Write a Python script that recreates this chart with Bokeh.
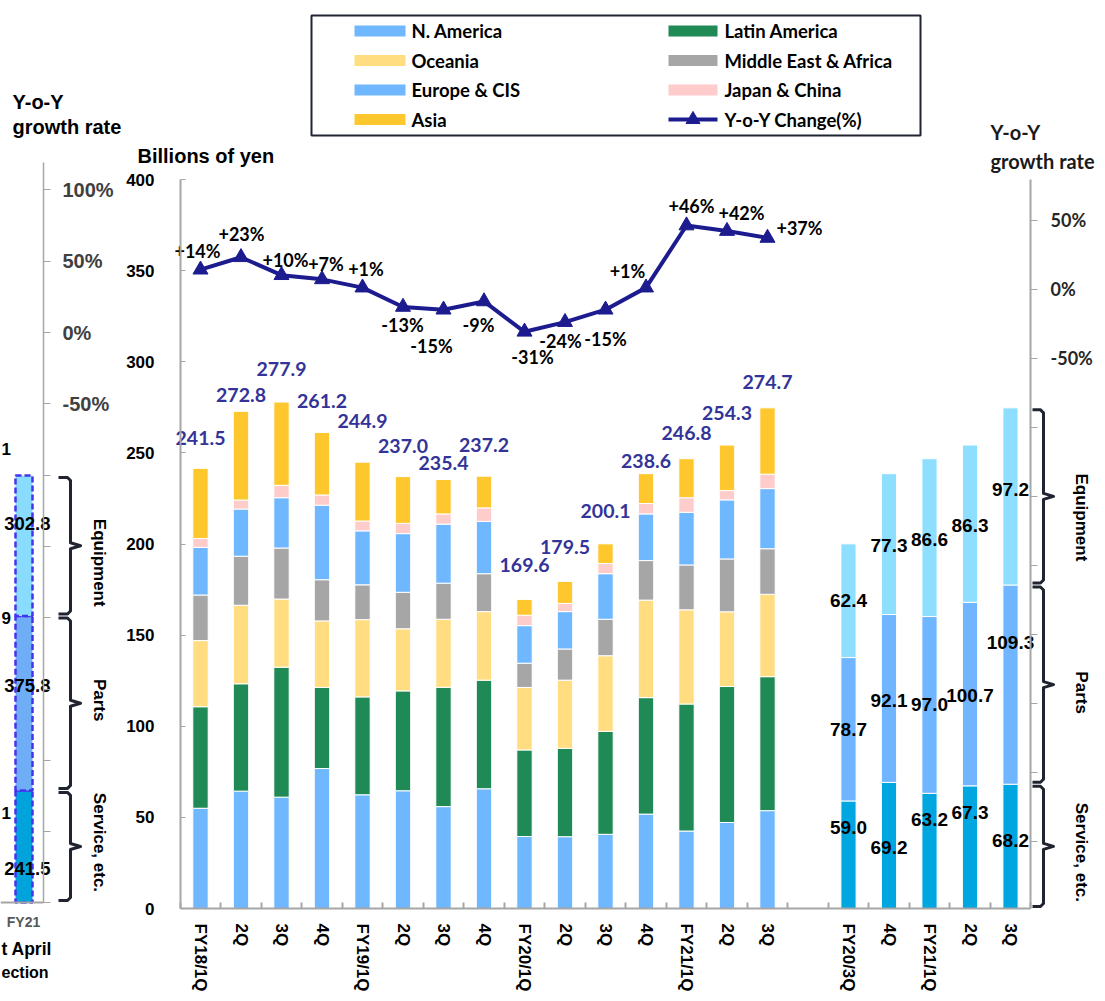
import math
from bokeh.plotting import figure
from bokeh.models import Range1d, LinearAxis, FixedTicker, ColumnDataSource
from bokeh.core.properties import value
from bokeh.embed import file_html
from bokeh.resources import INLINE

# ---------------- data ----------------
quarters = ["FY18/1Q", "2Q", "3Q", "4Q", "FY19/1Q", "2Q", "3Q", "4Q",
            "FY20/1Q", "2Q", "3Q", "4Q", "FY21/1Q", "2Q", "3Q"]
region_names = ["N. America", "Latin America", "Oceania", "Middle East & Africa",
                "Europe & CIS", "Japan & China", "Asia"]
n_america = [55.0, 64.4, 61.1, 76.8, 62.4, 64.6, 55.9, 65.7, 39.5, 39.4, 40.7, 51.8, 42.5, 47.2, 53.7]
latin_america = [55.7, 58.9, 71.3, 44.5, 53.7, 54.8, 65.5, 59.6, 47.5, 48.5, 56.5, 63.9, 69.7, 74.6, 73.5]
oceania = [36.3, 43.1, 37.4, 36.5, 42.4, 34.1, 37.3, 37.6, 34.3, 37.4, 41.5, 53.5, 51.7, 41.0, 45.2]
middle_east_africa = [25.0, 26.9, 28.0, 22.6, 19.1, 20.0, 19.8, 20.8, 13.3, 17.1, 20.0, 21.7, 24.6, 29.0, 25.0]
europe_cis = [26.1, 25.9, 27.6, 40.9, 29.6, 32.2, 32.4, 28.7, 20.6, 20.5, 25.0, 25.6, 28.9, 32.4, 33.0]
japan_china = [4.9, 4.9, 6.8, 5.6, 5.4, 5.6, 5.6, 7.4, 5.7, 4.5, 5.6, 5.7, 8.0, 5.1, 7.9]
asia = [38.5, 48.7, 45.7, 34.3, 32.3, 25.7, 18.9, 17.4, 8.7, 12.1, 10.8, 16.4, 21.4, 25.0, 36.4]
totals = [241.5, 272.8, 277.9, 261.2, 244.9, 237.0, 235.4, 237.2, 169.6, 179.5, 200.1, 238.6, 246.8, 254.3, 274.7]
yoy_change = [14, 23, 10, 7, 1, -13, -15, -9, -31, -24, -15, 1, 46, 42, 37]

seg_quarters = ["FY20/3Q", "4Q", "FY21/1Q", "2Q", "3Q"]
service = [59.0, 69.2, 63.2, 67.3, 68.2]
parts = [78.7, 92.1, 97.0, 100.7, 109.3]
equipment = [62.4, 77.3, 86.6, 86.3, 97.2]
segment_names = ["Equipment", "Parts", "Service, etc."]

fy21_label = "FY21"
fy21_service = 241.5
fy21_parts = 375.8
fy21_equipment = 302.8
# fragments of the neighbouring (cropped) labels visible in the left panel
left_fragments = ["1", "9", "1"]
left_caption = ["t April", "ection"]

left_yoy_labels = {-50: "-50%", 0: "0%", 50: "50%", 100: "100%"}
right_yoy_labels = {-50: "-50%", 0: "0%", 50: "50%"}

# ---------------- styles / positions ----------------
REGION_COLORS = ["#6FB7FF", "#208A56", "#FFDD80", "#A6A6A6", "#6FB7FF", "#FFCCCC", "#FFC72E"]
SVC_C, PRT_C, EQP_C = "#00A6DF", "#6FB5FF", "#8EDFFF"
NAVY = "#1C1C8F"
TOTAL_BLUE = "#333399"
AXIS_GRAY = "#A6A6A6"
DARK = "#1F2430"

total_label_dy = [30, 16, 33, 31, 41, 31, 16, 31, 34, 34, 33, 13, 26, 32, 26]
yoy_label_dx = [-3, 0.5, 4, 4, 3.5, -0.5, -12, -5.5, 8, -4.5, 0, -18.5, 5, 14.5, 32]
yoy_label_dy = [-18.5, -23, -15, -15, -19, 18.5, 36, 24, 25, 19, 29, -17, -20, -18.5, -9.5]
svc_frac = [0.75, 0.48, 0.77, 0.78, 0.55]
prt_frac = [0.50, 0.49, 0.50, 0.49, 0.71]
eqp_frac = [0.50, 0.49, 0.49, 0.49, 0.54]

W, H = 1105, 1000
X0, XS = 200.0, 40.5          # canvas x of slot 0, px per slot
Y0, YS = 908.0, 1.8225        # canvas y of 0 bn yen, px per bn yen
YOY0, YOYS = 288.5, 1.38      # canvas y of 0 %, px per %
LP0, LPS = 902.0, 0.4641      # left panel bar scale
LY0, LYS = 332.0, 1.426       # left panel yoy scale


def px(xp):
    return (xp - X0) / XS


def py(yp):
    return (Y0 - yp) / YS


def pyo(yp):
    return (YOY0 - yp) / YOYS


def plp(yp):
    return (LP0 - yp) / LPS


def ply(yp):
    return (LY0 - yp) / LYS


p = figure(width=W, height=H, output_backend="svg", toolbar_location=None,
           x_range=Range1d(px(0), px(W)), y_range=Range1d(py(H), py(0)),
           x_axis_location=None, y_axis_location=None, min_border=0,
           outline_line_color=None, background_fill_color="white",
           border_fill_color="white")
p.extra_y_ranges = {"yoy": Range1d(pyo(H), pyo(0)),
                    "lp": Range1d(plp(H), plp(0)),
                    "lyoy": Range1d(ply(H), ply(0))}
p.grid.visible = False

ARIAL = "Liberation Sans"
CAL = "Lato"

# ---------------- main stacked bars ----------------
xs_main = list(range(len(quarters)))
keys = ["na", "la", "oc", "mea", "eu", "jc", "asia"]
series = [n_america, latin_america, oceania, middle_east_africa, europe_cis, japan_china, asia]
src = ColumnDataSource(dict(x=xs_main, **{k: s for k, s in zip(keys, series)}))
p.vbar_stack(keys, x="x", width=15.4 / XS, source=src, fill_color=REGION_COLORS,
             line_color="white", line_width=1)

p.text(x=xs_main, y=[t + d / YS for t, d in zip(totals, total_label_dy)],
       text=[f"{t:.1f}" for t in totals], text_font=value(CAL), text_font_style="bold",
       text_font_size="19.5px", text_color=TOTAL_BLUE, text_align="center", text_baseline="middle")

# ---------------- YoY line ----------------
p.line(xs_main, yoy_change, y_range_name="yoy", line_color=NAVY, line_width=4)
p.scatter(xs_main, yoy_change, y_range_name="yoy", marker="triangle", size=15,
          fill_color=NAVY, line_color=NAVY)
p.text(x=[i + dx / XS for i, dx in zip(xs_main, yoy_label_dx)],
       y=[v - dy / YOYS for v, dy in zip(yoy_change, yoy_label_dy)],
       text=[f"{v:+d}%" for v in yoy_change], y_range_name="yoy",
       text_font=value(CAL), text_font_style="bold", text_font_size="18px",
       text_color="black", text_align="center", text_baseline="middle")

# ---------------- right panel (segments) ----------------
xs_seg = [len(quarters) + 1 + i for i in range(len(seg_quarters))]
src2 = ColumnDataSource(dict(x=xs_seg, svc=service, prt=parts, eqp=equipment))
p.vbar_stack(["svc", "prt", "eqp"], x="x", width=15.2 / XS, source=src2,
             fill_color=[SVC_C, PRT_C, EQP_C], line_color="white", line_width=1)
lx, ly, lt = [], [], []
for i, x in enumerate(xs_seg):
    s, pa, e = service[i], parts[i], equipment[i]
    lx += [x, x, x]
    ly += [s * svc_frac[i], s + pa * prt_frac[i], s + pa + e * eqp_frac[i]]
    lt += [f"{s:.1f}", f"{pa:.1f}", f"{e:.1f}"]
p.text(x=lx, y=ly, text=lt, text_font=value(ARIAL), text_font_style="bold",
       text_font_size="19px", text_color="black", text_align="center", text_baseline="middle")

# ---------------- braces ----------------


def brace(v_lo, v_hi, unit, x_hook, x_spine, x_nub):
    top = v_hi - 2.0 / unit
    bot = v_lo + 2.0 / unit
    mid = (v_lo + v_hi) / 2.0
    c = 3.0 / unit
    xsl = [px(x_hook), px(x_spine - 3), px(x_spine), px(x_spine), px(x_nub),
           px(x_spine), px(x_spine), px(x_spine - 3), px(x_hook)]
    ysl = [top, top, top - c, mid + c, mid, mid - c, bot + c, bot, bot]
    return xsl, ysl, mid


last = len(seg_quarters) - 1
r_bounds = [(service[last] + parts[last], service[last] + parts[last] + equipment[last]),
            (service[last], service[last] + parts[last]),
            (0.0, service[last])]
r_text_off = [21, 8, 6]
bx, by, tx, ty = [], [], [], []
for (lo, hi), off in zip(r_bounds, r_text_off):
    a, b, m = brace(lo, hi, YS, 1032, 1043, 1053)
    bx.append(a)
    by.append(b)
    tx.append(px(1081))
    ty.append(m - off / YS)
p.multi_line(xs=bx, ys=by, line_color=DARK, line_width=3, line_join="round")
p.text(x=tx, y=ty, text=segment_names, angle=-math.pi / 2, text_font=value(ARIAL),
       text_font_style="bold", text_font_size="17px", text_color="black",
       text_align="center", text_baseline="middle")

# ---------------- left panel (FY21 projection) ----------------
lp_vals = [fy21_service, fy21_parts, fy21_equipment]
lp_bottom = [0.0, fy21_service, fy21_service + fy21_parts]
lp_top = [b + v for b, v in zip(lp_bottom, lp_vals)]
p.vbar(x=px(23.5), width=17 / XS, bottom=lp_bottom, top=lp_top, y_range_name="lp",
       fill_color=["#00A3DC", "#6FAEF6", "#8ADCFF"], line_color="#4433EE",
       line_dash="6 3", line_width=2.5)
p.segment(x0=px(0), y0=0, x1=px(43), y1=0, y_range_name="lp", line_color=AXIS_GRAY, line_width=2)
lp_frac = [0.30, 0.60, 0.66]
p.text(x=[px(50)] * 3, y=[b + v * f for b, v, f in zip(lp_bottom, lp_vals, lp_frac)],
       text=[f"{v:.1f}" for v in lp_vals], y_range_name="lp", text_font=value(ARIAL),
       text_font_style="bold", text_font_size="18.5px", text_color="black",
       text_align="right", text_baseline="middle")
p.text(x=[px(1)] * 3, y=[py(448), py(617), py(812)], text=left_fragments,
       text_font=value(ARIAL), text_font_style="bold", text_font_size="17px",
       text_color="black", text_align="left", text_baseline="middle")

l_bounds = [(lp_bottom[2], lp_top[2]), (lp_bottom[1], lp_top[1]), (lp_bottom[0], lp_top[0])]
l_text_off = [17, -3, -4]
bx, by, tx, ty = [], [], [], []
for (lo, hi), off in zip(l_bounds, l_text_off):
    a, b, m = brace(lo, hi, LPS, 58, 70, 80)
    bx.append(a)
    by.append(b)
    tx.append(px(99))
    ty.append(m - off / LPS)
p.multi_line(xs=bx, ys=by, y_range_name="lp", line_color=DARK, line_width=3, line_join="round")
p.text(x=tx, y=ty, text=segment_names, y_range_name="lp", angle=-math.pi / 2,
       text_font=value(ARIAL), text_font_style="bold", text_font_size="17px",
       text_color="black", text_align="center", text_baseline="middle")

p.text(x=[px(23)], y=[py(921.7)], text=[fy21_label], text_font=value(ARIAL),
       text_font_style="bold", text_font_size="14px", text_color="#595959",
       text_align="center", text_baseline="middle")
p.text(x=[px(1), px(1)], y=[py(948), py(971.7)], text=left_caption,
       text_font=value(ARIAL), text_font_style="bold", text_font_size=["17.5px", "16px"],
       text_color="black", text_align="left", text_baseline="middle")

# ---------------- titles ----------------
p.text(x=[px(137)], y=[py(155)], text=["Billions of yen"], text_font=value(ARIAL),
       text_font_style="bold", text_font_size="20px", text_color="black",
       text_align="left", text_baseline="middle")
p.text(x=[px(12), px(12)], y=[py(101.7), py(126.7)], text=["Y-o-Y", "growth rate"],
       text_font=value(ARIAL), text_font_style="bold", text_font_size="20px",
       text_color="black", text_align="left", text_baseline="middle")
p.text(x=[px(990), px(990)], y=[py(131.7), py(160)], text=["Y-o-Y", "growth rate"],
       text_font=value(CAL), text_font_style="bold", text_font_size="20px",
       text_color="#1A1A1A", text_align="left", text_baseline="middle")

# ---------------- legend (drawn) ----------------
p.quad(left=[px(311)], right=[px(920)], top=[py(15)], bottom=[py(135)],
       fill_color=None, line_color=DARK, line_width=2)
rows = [30.5, 60, 89.5, 119]
leg_items = [(region_names[0], REGION_COLORS[0], 0, 0), (region_names[1], REGION_COLORS[1], 1, 0),
             (region_names[2], REGION_COLORS[2], 0, 1), (region_names[3], REGION_COLORS[3], 1, 1),
             (region_names[4], REGION_COLORS[4], 0, 2), (region_names[5], REGION_COLORS[5], 1, 2),
             (region_names[6], REGION_COLORS[6], 0, 3)]
col_sw = [(354, 405), (668, 717)]
col_tx = [411, 724]
p.quad(left=[px(col_sw[c][0]) for _, _, c, r in leg_items],
       right=[px(col_sw[c][1]) for _, _, c, r in leg_items],
       top=[py(rows[r] - 5.5) for _, _, c, r in leg_items],
       bottom=[py(rows[r] + 5.5) for _, _, c, r in leg_items],
       fill_color=[col for _, col, c, r in leg_items], line_color=None)
p.line(x=[px(668), px(717)], y=[py(rows[3]), py(rows[3])], line_color=NAVY, line_width=4)
p.scatter(x=[px(692.5)], y=[py(rows[3])], marker="triangle", size=14,
          fill_color=NAVY, line_color=NAVY)
leg_text = [n for n, _, c, r in leg_items] + ["Y-o-Y Change(%)"]
leg_tx = [px(col_tx[c]) for _, _, c, r in leg_items] + [px(col_tx[1])]
leg_ty = [py(rows[r]) for _, _, c, r in leg_items] + [py(rows[3])]
p.text(x=leg_tx, y=leg_ty, text=leg_text, text_font=value(CAL), text_font_style="bold",
       text_font_size="18.5px", text_color="black", text_align="left", text_baseline="middle")

# ---------------- axes ----------------
yax = LinearAxis(fixed_location=px(180), bounds=(0, 400),
                 ticker=FixedTicker(ticks=list(range(0, 401, 50))))
yax.major_tick_in = 5
yax.major_tick_out = 0
yax.minor_tick_in = 0
yax.minor_tick_out = 0
yax.axis_line_color = AXIS_GRAY
yax.axis_line_width = 2
yax.major_tick_line_color = AXIS_GRAY
yax.major_label_text_font = ARIAL
yax.major_label_text_font_style = "bold"
yax.major_label_text_font_size = "17px"
yax.major_label_text_color = "black"
yax.major_label_standoff = 26
p.add_layout(yax, "left")

xticks = xs_main + xs_seg
xlabels = quarters + seg_quarters
xax = LinearAxis(fixed_location=0, bounds=(-0.5, xs_seg[-1] + 0.5),
                 ticker=FixedTicker(ticks=xticks,
                                    minor_ticks=[i - 0.5 for i in range(xs_seg[-1] + 2)]))
xax.major_label_overrides = {t: l for t, l in zip(xticks, xlabels)}
xax.major_label_orientation = -math.pi / 2
xax.major_tick_in = 0
xax.major_tick_out = 0
xax.minor_tick_in = 6
xax.minor_tick_out = 0
xax.minor_tick_line_color = AXIS_GRAY
xax.minor_tick_line_width = 2
xax.axis_line_color = AXIS_GRAY
xax.axis_line_width = 2
xax.major_label_text_font = ARIAL
xax.major_label_text_font_style = "bold"
xax.major_label_text_font_size = "17px"
xax.major_label_text_color = "black"
xax.major_label_standoff = 15
p.add_layout(xax, "below")

ryax = LinearAxis(y_range_name="yoy", fixed_location=px(1030), bounds=(-448.9, 79.3),
                  ticker=FixedTicker(ticks=list(range(-400, 51, 50))))
ryax.major_label_overrides = {t: right_yoy_labels.get(t, "") for t in range(-400, 51, 50)}
ryax.major_tick_in = 0
ryax.major_tick_out = 7
ryax.minor_tick_in = 0
ryax.minor_tick_out = 0
ryax.axis_line_color = AXIS_GRAY
ryax.axis_line_width = 2
ryax.major_tick_line_color = AXIS_GRAY
ryax.major_label_text_font = CAL
ryax.major_label_text_font_style = "bold"
ryax.major_label_text_font_size = "18px"
ryax.major_label_text_color = "#262626"
ryax.major_label_standoff = 13
p.add_layout(ryax, "right")

lyax = LinearAxis(y_range_name="lyoy", fixed_location=px(43), bounds=(-400, 119.2),
                  ticker=FixedTicker(ticks=list(range(-400, 101, 50))))
lyax.major_label_overrides = {t: left_yoy_labels.get(t, "") for t in range(-400, 101, 50)}
lyax.major_tick_in = 0
lyax.major_tick_out = 7
lyax.minor_tick_in = 0
lyax.minor_tick_out = 0
lyax.axis_line_color = AXIS_GRAY
lyax.axis_line_width = 1.5
lyax.major_tick_line_color = AXIS_GRAY
lyax.major_label_text_font = ARIAL
lyax.major_label_text_font_style = "bold"
lyax.major_label_text_font_size = "20px"
lyax.major_label_text_color = "#404040"
lyax.major_label_standoff = 12
p.add_layout(lyax, "right")

open("out.html", "w").write(file_html(p, INLINE))
